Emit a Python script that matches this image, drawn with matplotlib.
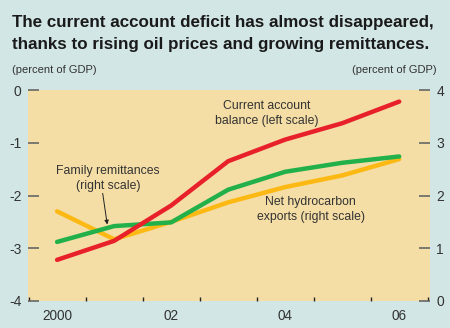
import matplotlib
matplotlib.use('Agg')
import matplotlib.pyplot as plt

years = [2000, 2001, 2002, 2003, 2004, 2005, 2006]
current_account = [-3.22, -2.86, -2.19, -1.35, -0.94, -0.63, -0.22]   # left scale
hydrocarbon = [1.12, 1.42, 1.49, 2.11, 2.45, 2.62, 2.74]             # right scale
remittances = [1.70, 1.17, 1.50, 1.87, 2.16, 2.38, 2.69]            # right scale
xtick_labels = ['2000', '02', '04', '06']
title_lines = ['The current account deficit has almost disappeared,',
               'thanks to rising oil prices and growing remittances.']

plt.rcParams['font.family'] = ['Liberation Sans', 'DejaVu Sans']

bg = '#d2e6e5'
panel = '#f4dea6'
txt = '#333333'

fig = plt.figure(figsize=(4.5, 3.28), dpi=100, facecolor=bg)
ax2 = fig.add_axes([28/450, 27/328, 402/450, 211/328])
ax2.set_facecolor(panel)
ax = ax2.twinx()   # left scale drawn on top so red line sits above
ax.yaxis.tick_left()
ax.yaxis.set_label_position('left')
ax2.yaxis.tick_right()

ax2.plot(years, remittances, color='#fdb913', lw=3.2, solid_capstyle='round', solid_joinstyle='round')
ax2.plot(years, hydrocarbon, color='#22b04b', lw=3.2, solid_capstyle='round', solid_joinstyle='round')
ax.plot(years, current_account, color='#e8202a', lw=3.2, solid_capstyle='round', solid_joinstyle='round')

ax2.set_xlim(1999.49, 2006.54)
ax.set_ylim(-4, 0)
ax2.set_ylim(0, 4)
ax.set_yticks([0, -1, -2, -3, -4])
ax.set_yticklabels(['0', '-1', '-2', '-3', '-4'])
ax2.set_yticks([0, 1, 2, 3, 4])

ax2.set_xticks([2000, 2002, 2004, 2006])
ax2.set_xticklabels(xtick_labels)
ax2.set_xticks([y + 0.5 for y in range(1999, 2007)], minor=True)
ax2.tick_params(axis='x', which='major', length=0, pad=5.5, labelsize=9.8, labelcolor=txt)
ax2.tick_params(axis='x', which='minor', direction='in', length=3, width=1, color='#222222')
ax.tick_params(axis='y', direction='in', length=8, width=1.2, color='#666666', pad=4.5,
               labelsize=10, labelcolor=txt)
ax2.tick_params(axis='y', direction='in', length=8, width=1.2, color='#666666', pad=4.5,
                labelsize=10, labelcolor=txt)
for a in (ax, ax2):
    for s in a.spines.values():
        s.set_visible(False)

# title: two bold lines, sized to span the same width as the original
t1 = fig.text(12/450, 1 - 27/328, title_lines[0], weight='bold', fontsize=12,
              color='#1a1a1a', va='baseline', ha='left')
t2 = fig.text(12/450, 1 - 49.5/328, title_lines[1], weight='bold', fontsize=12,
              color='#1a1a1a', va='baseline', ha='left')
r = fig.canvas.get_renderer()
w = t1.get_window_extent(r).width
for t in (t1, t2):
    t.set_fontsize(12 * 419 / w)

fig.text(12/450, 1 - 70/328, '(percent of GDP)', fontsize=8, color=txt, va='center', ha='left')
fig.text(437/450, 1 - 70/328, '(percent of GDP)', fontsize=8, color=txt, va='center', ha='right')

ax.text(2003.68, -0.45, 'Current account\nbalance (left scale)', fontsize=8.8,
        color=txt, ha='center', va='center', linespacing=1.35)
ax2.text(2004.45, 1.73, 'Net hydrocarbon\nexports (right scale)', fontsize=8.8,
         color=txt, ha='center', va='center', linespacing=1.35)
ax2.text(2000.89, 2.32, 'Family remittances\n(right scale)', fontsize=8.8,
         color=txt, ha='center', va='center', linespacing=1.35)
ax2.annotate('', xy=(2000.88, 1.45), xytext=(2000.8, 2.04),
             arrowprops=dict(arrowstyle='-|>', color='#222222', lw=0.7, mutation_scale=6,
                             shrinkA=0, shrinkB=0))

fig.savefig('out.png', dpi=100, facecolor=bg)
